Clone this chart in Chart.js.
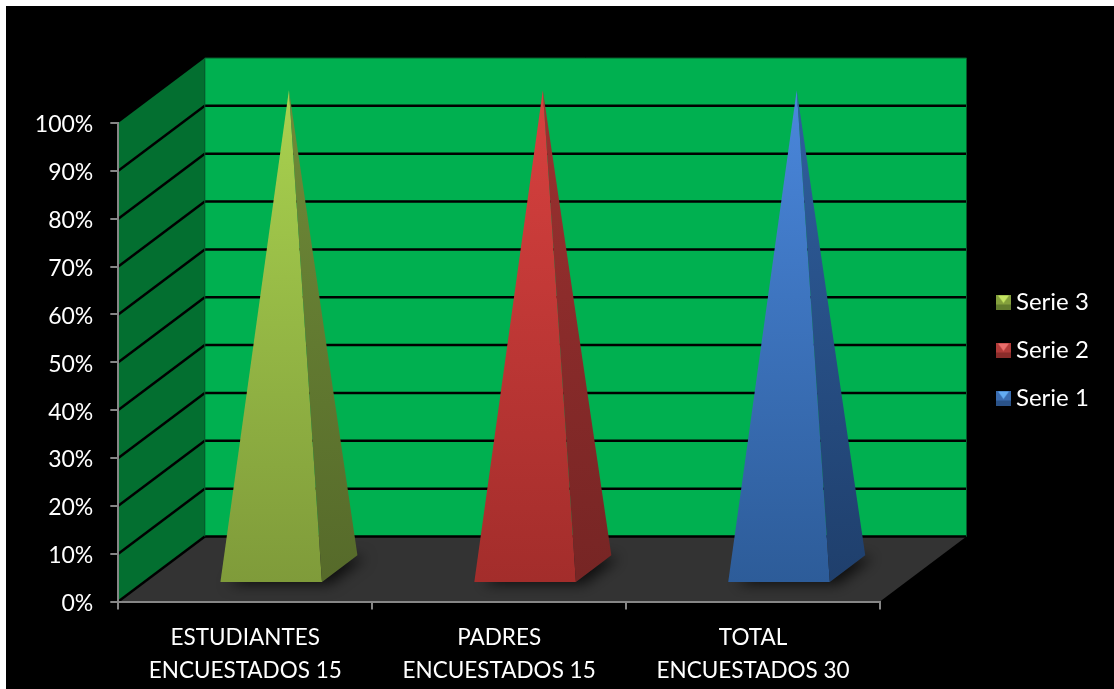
<!DOCTYPE html>
<html>
<head>
<meta charset="utf-8">
<title>Encuestados</title>
<script src="https://cdn.jsdelivr.net/npm/chart.js@4"></script>
<style>
  html, body { margin: 0; padding: 0; background: #fff; overflow: hidden; }
  #grafico { position: absolute; left: 6px; top: 6px; background: #000; }
</style>
</head>
<body>
<canvas id="grafico" width="1108" height="683"></canvas>
<script>
// Data
const categorias = [['ESTUDIANTES', 'ENCUESTADOS 15'], ['PADRES', 'ENCUESTADOS 15'], ['TOTAL', 'ENCUESTADOS 30']];
const serie1 = [null, null, 100];
const serie2 = [null, 100, null];
const serie3 = [100, null, null];
const nombres = ['Serie 1', 'Serie 2', 'Serie 3'];

// Colours: [front top, front bottom, side top, side bottom]
const colores = [
  ['#4A87DC', '#2D5C99', '#2F5F9F', '#1F3F6C'],
  ['#D8413F', '#A32D2B', '#9C3130', '#762524'],
  ['#A9D24F', '#7F9B3A', '#6F8B38', '#566A2A']
];
// Legend markers: [sides, top, bottom]
const marcas = [
  ['#3A6CB0', '#63ACF2', '#2A5288'],
  ['#B23B39', '#EA6E6B', '#8A2C2A'],
  ['#84A03C', '#C4E462', '#627C2E']
];

// Depth of the 3D box, in pixels
const DX = 86.5;
const DY = -65;
const FUENTE = 'Lato, "Open Sans", sans-serif';

function poly(ctx, pts, fill) {
  ctx.beginPath();
  pts.forEach((p, i) => i ? ctx.lineTo(p[0], p[1]) : ctx.moveTo(p[0], p[1]));
  ctx.closePath();
  ctx.fillStyle = fill;
  ctx.fill();
}

function line(ctx, x1, y1, x2, y2, color, width) {
  ctx.beginPath();
  ctx.moveTo(x1, y1);
  ctx.lineTo(x2, y2);
  ctx.strokeStyle = color;
  ctx.lineWidth = width;
  ctx.stroke();
}

// Walls and floor of the box
const caja = {
  id: 'caja',
  beforeDraw(chart) {
    const ctx = chart.ctx, a = chart.chartArea, y = chart.scales.y;
    const y0 = y.getPixelForValue(0), y100 = y.getPixelForValue(100);
    ctx.save();
    poly(ctx, [[a.left, y0], [a.left + DX, y0 + DY], [a.left + DX, y100 + DY], [a.left, y100]], '#036F30');
    poly(ctx, [[a.left + DX, y0 + DY], [a.right + DX, y0 + DY], [a.right + DX, y100 + DY], [a.left + DX, y100 + DY]], '#00B050');
    poly(ctx, [[a.left, y0], [a.right, y0], [a.right + DX, y0 + DY], [a.left + DX, y0 + DY]], '#333333');
    y.ticks.forEach(t => {
      if (t.value === 100) return;
      const p = y.getPixelForValue(t.value);
      line(ctx, a.left, p, a.left + DX, p + DY, '#000', 2.5);
      line(ctx, a.left + DX, p + DY, a.right + DX, p + DY, '#000', 2.5);
    });
    line(ctx, a.left + DX, y100 + DY, a.right + DX, y100 + DY, '#06592B', 1);
    line(ctx, a.right + DX, y100 + DY, a.right + DX, y0 + DY, '#06592B', 1);
    line(ctx, a.left + DX, y100 + DY, a.left + DX, y0 + DY, '#06592B', 1);
    ctx.restore();
  }
};

// Each bar of the dataset is painted as a pyramid standing on the floor
const piramides = {
  id: 'piramides',
  beforeDatasetDraw(chart, args) {
    const ctx = chart.ctx, idx = args.index;
    const c = colores[idx];
    chart.getDatasetMeta(idx).data.forEach((bar, i) => {
      if (chart.data.datasets[idx].data[i] == null) return;
      const half = bar.width / 2;
      const y0 = chart.scales.y.getPixelForValue(0);
      const f = 0.3, b = 0.71;   // front and back of the base, as share of the depth
      const fl = [bar.x - half + DX * f, y0 + DY * f];
      const fr = [bar.x + half + DX * f, y0 + DY * f];
      const br = [bar.x + half + DX * b, y0 + DY * b];
      const bl = [bar.x - half + DX * b, y0 + DY * b];
      const apex = [bar.x + DX * (f + b) / 2, bar.y + DY * (f + b) / 2];

      // soft shadow on the floor
      ctx.save();
      ctx.shadowColor = 'rgba(0,0,0,0.75)';
      ctx.shadowBlur = 14;
      ctx.shadowOffsetX = 8;
      ctx.shadowOffsetY = 2;
      poly(ctx, [fl, fr, br, bl], '#222');
      ctx.restore();

      let g = ctx.createLinearGradient(0, apex[1], 0, fl[1]);
      g.addColorStop(0, c[0]);
      g.addColorStop(1, c[1]);
      poly(ctx, [fl, fr, apex], g);

      g = ctx.createLinearGradient(0, apex[1], 0, fr[1]);
      g.addColorStop(0, c[2]);
      g.addColorStop(1, c[3]);
      poly(ctx, [fr, br, apex], g);
    });
    return false;
  }
};

// The legend sits in the free strip right of the box
const leyendaDerecha = {
  id: 'leyendaDerecha',
  afterLayout(chart) {
    const l = chart.legend;
    l.left = 973;
    l.right = 1108;
    l.top = 260;
    l.bottom = 460;
    l.width = l.right - l.left;
    l.height = l.bottom - l.top;
    l.adjustHitBoxes();
  }
};

function marca(c) {
  const s = 15;
  const m = document.createElement('canvas');
  m.width = s;
  m.height = s;
  const x = m.getContext('2d');
  x.fillStyle = c[0];
  x.fillRect(0, 0, s, s);
  x.fillStyle = c[2];
  x.fillRect(0, s - 5, s, 5);
  poly(x, [[2, 1], [s - 2, 1], [s / 2, s / 2 + 1]], c[1]);
  return m;
}

new Chart(document.getElementById('grafico'), {
  type: 'bar',
  data: {
    labels: categorias,
    datasets: [
      { label: nombres[0], data: serie1, backgroundColor: colores[0][0] },
      { label: nombres[1], data: serie2, backgroundColor: colores[1][0] },
      { label: nombres[2], data: serie3, backgroundColor: colores[2][0] }
    ]
  },
  options: {
    responsive: false,
    animation: false,
    devicePixelRatio: 1,
    layout: { padding: { top: 117, right: 234, bottom: 0, left: 0 } },
    categoryPercentage: 1,
    barPercentage: 0.4,
    scales: {
      x: {
        stacked: true,
        afterFit(s) { s.height = 87.5; },
        border: { color: '#868686', width: 2 },
        grid: { color: '#868686', lineWidth: 2, drawOnChartArea: false, tickLength: 8 },
        ticks: { color: '#fff', padding: 12, maxRotation: 0, font: { family: FUENTE, size: 22.5, lineHeight: 1.47 } }
      },
      y: {
        stacked: true,
        min: 0,
        max: 100,
        afterFit(s) { s.width = 112.3; },
        border: { color: '#868686', width: 2 },
        grid: { color: '#868686', lineWidth: 2, drawOnChartArea: false, tickLength: 8 },
        ticks: { color: '#fff', stepSize: 10, padding: 17, labelOffset: 2, font: { family: FUENTE, size: 23 }, callback: v => v + '%' }
      }
    },
    plugins: {
      tooltip: { enabled: false },
      legend: {
        position: 'chartArea',
        align: 'start',
        reverse: true,
        labels: {
          color: '#fff',
          usePointStyle: true,
          pointStyleWidth: 1,
          boxHeight: 15,
          padding: 24,
          font: { family: FUENTE, size: 24 },
          generateLabels(chart) {
            return chart.data.datasets.map((d, i) => ({
              text: d.label,
              datasetIndex: i,
              fontColor: '#fff',
              pointStyle: marca(marcas[i]),
              fillStyle: d.backgroundColor,
              strokeStyle: 'transparent',
              lineWidth: 0
            }));
          }
        }
      }
    }
  },
  plugins: [caja, piramides, leyendaDerecha]
});
</script>
</body>
</html>
